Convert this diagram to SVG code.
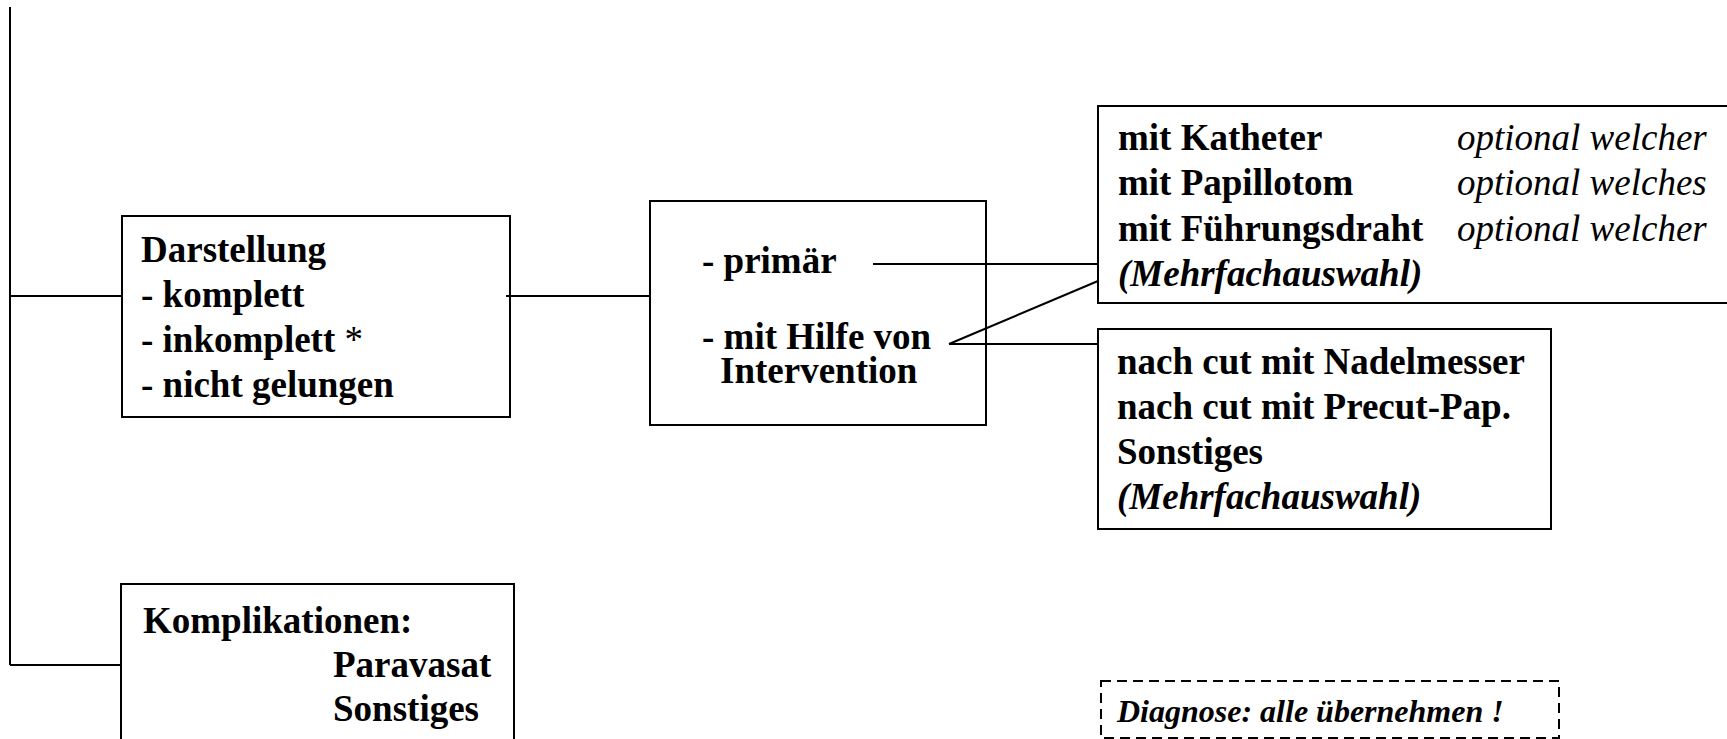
<svg xmlns="http://www.w3.org/2000/svg" width="1727" height="739" viewBox="0 0 1727 739">
  <style>
    .box { fill: #ffffff; stroke: #000000; stroke-width: 2; }
    .dash { fill: #ffffff; stroke: #000000; stroke-width: 2; stroke-dasharray: 10 6; }
    .wire { fill: none; stroke: #000000; stroke-width: 2; }
    text { font-family: "Liberation Serif", "Times New Roman", serif; fill: #000000; }
    .b { font-weight: bold; font-size: 37px; }
    .i { font-style: italic; font-size: 37px; }
    .bi { font-weight: bold; font-style: italic; font-size: 37px; }
    .note { font-weight: bold; font-style: italic; font-size: 32px; }
    .plain { font-weight: normal; }
  </style>

  <!-- Darstellung -->
  <g id="darstellung">
    <rect class="box" x="122" y="216" width="388" height="201"/>
    <text class="b" x="141" y="262">Darstellung</text>
    <text class="b" x="141" y="307">- komplett</text>
    <text class="b" x="141" y="352">- inkomplett <tspan class="plain">*</tspan></text>
    <text class="b" x="141" y="397">- nicht gelungen</text>
  </g>

  <!-- primär / mit Hilfe von Intervention -->
  <g id="methode">
    <rect class="box" x="650" y="201" width="336" height="224"/>
    <text class="b" x="702" y="273">- primär</text>
    <text class="b" x="702" y="349">- mit Hilfe von</text>
    <text class="b" x="720" y="383">Intervention</text>
  </g>

  <!-- Instrumente -->
  <g id="instrumente">
    <rect class="box" x="1098" y="106" width="700" height="197"/>
    <text class="b" x="1118" y="150">mit Katheter</text>
    <text class="b" x="1118" y="195">mit Papillotom</text>
    <text class="b" x="1118" y="241">mit Führungsdraht</text>
    <text class="bi" x="1118" y="286">(Mehrfachauswahl)</text>
    <text class="i" x="1457" y="150">optional welcher</text>
    <text class="i" x="1457" y="195">optional welches</text>
    <text class="i" x="1457" y="241">optional welcher</text>
  </g>

  <!-- Intervention -->
  <g id="intervention">
    <rect class="box" x="1098" y="329" width="453" height="200"/>
    <text class="b" x="1117" y="374">nach cut mit Nadelmesser</text>
    <text class="b" x="1117" y="419">nach cut mit Precut-Pap.</text>
    <text class="b" x="1117" y="464">Sonstiges</text>
    <text class="bi" x="1117" y="509">(Mehrfachauswahl)</text>
  </g>

  <!-- Komplikationen -->
  <g id="komplikationen">
    <rect class="box" x="121" y="584" width="393" height="200"/>
    <text class="b" x="143" y="633">Komplikationen:</text>
    <text class="b" x="333" y="677">Paravasat</text>
    <text class="b" x="333" y="721">Sonstiges</text>
  </g>

  <!-- Diagnose -->
  <g id="diagnose">
    <rect class="dash" x="1101" y="681" width="458" height="57"/>
    <text class="note" x="1117" y="722">Diagnose: alle übernehmen !</text>
  </g>

  <!-- connectors, drawn over the boxes -->
  <g id="connectors">
    <line class="wire" x1="10" y1="7" x2="10" y2="665"/>
    <line class="wire" x1="10" y1="296" x2="122" y2="296"/>
    <line class="wire" x1="10" y1="665" x2="121" y2="665"/>
    <line class="wire" x1="506" y1="296" x2="650" y2="296"/>
    <line class="wire" x1="873" y1="264" x2="1098" y2="264"/>
    <line class="wire" x1="949" y1="344" x2="1098" y2="344"/>
    <line class="wire" x1="949" y1="344" x2="1098" y2="281"/>
  </g>
</svg>
